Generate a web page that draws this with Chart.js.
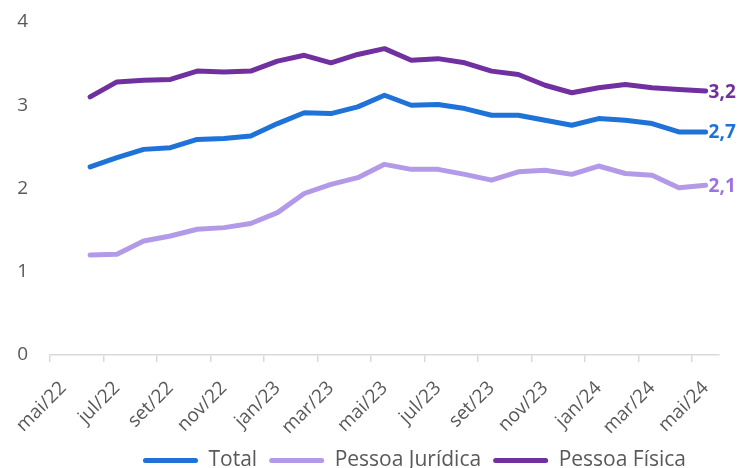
<!DOCTYPE html>
<html>
<head>
<meta charset="utf-8">
<script src="https://cdn.jsdelivr.net/npm/chart.js@4"></script>
<style>
html,body{margin:0;padding:0;background:#fff;}
#wrap{width:745px;height:468px;}
</style>
</head>
<body>
<div id="wrap"><canvas id="c" width="745" height="468"></canvas></div>
<script>
const months = ["mai/22","jun/22","jul/22","ago/22","set/22","out/22","nov/22","dez/22",
  "jan/23","fev/23","mar/23","abr/23","mai/23","jun/23","jul/23","ago/23","set/23","out/23",
  "nov/23","dez/23","jan/24","fev/24","mar/24","abr/24","mai/24"];
const total = [null,2.26,2.37,2.47,2.49,2.59,2.60,2.63,2.78,2.91,2.90,2.98,3.12,3.00,3.01,2.96,2.88,2.88,2.82,2.76,2.84,2.82,2.78,2.68,2.68];
const pj = [null,1.20,1.21,1.37,1.43,1.51,1.53,1.58,1.71,1.94,2.05,2.13,2.29,2.23,2.23,2.17,2.10,2.20,2.22,2.17,2.27,2.18,2.16,2.01,2.04];
const pf = [null,3.10,3.28,3.30,3.31,3.41,3.40,3.41,3.53,3.60,3.51,3.61,3.68,3.54,3.56,3.51,3.41,3.37,3.24,3.15,3.21,3.25,3.21,3.19,3.17];
const seriesNames = ["Total","Pessoa Jurídica","Pessoa Física"];
const endLabels = ["2,7","2,1","3,2"];
const yTicks = [0,1,2,3,4];

const colors = ["#1F72D8","#B39AE8","#7030A0"];
const labelColors = ["#1F72D8","#9D72E3","#7030A0"];
const FONT = "'Open Sans', 'Noto Sans', sans-serif";

const endLabelPlugin = {
  id: 'endLabels',
  afterLayout(chart) {
    // Shift legend so it sits a little right of center, as in the reference
    const lg = chart.legend;
    if (lg) { lg.left += 55; lg.right += 55; }
  },
  afterDatasetsDraw(chart) {
    const ctx = chart.ctx;
    ctx.save();
    ctx.font = "bold 19px " + FONT;
    ctx.textAlign = 'left';
    ctx.textBaseline = 'middle';
    chart.data.datasets.forEach((ds, i) => {
      const meta = chart.getDatasetMeta(i);
      const pt = meta.data[meta.data.length - 1];
      ctx.fillStyle = labelColors[i];
      ctx.fillText(endLabels[i], pt.x + 3, pt.y + 1);
    });
    ctx.restore();
  }
};

const mk = (name, data, i) => ({
  label: name, data: data, borderColor: colors[i], backgroundColor: colors[i],
  borderWidth: 5, pointRadius: 0, tension: 0, fill: false, borderCapStyle: 'round', borderJoinStyle: 'round'
});

new Chart(document.getElementById('c'), {
  type: 'line',
  data: {
    labels: months,
    datasets: [mk(seriesNames[0], total, 0), mk(seriesNames[1], pj, 1), mk(seriesNames[2], pf, 2)]
  },
  plugins: [endLabelPlugin],
  options: {
    responsive: false,
    animation: false,
    layout: { padding: { top: 22, right: 26, left: 0, bottom: -13 } },
    plugins: {
      tooltip: { enabled: false },
      legend: {
        position: 'bottom',
        labels: {
          color: '#595959',
          font: { family: FONT, size: 21 },
          boxWidth: 55, boxHeight: 5,
          useBorderRadius: true, borderRadius: 2.5,
          padding: 12,
          generateLabels(chart) {
            return chart.data.datasets.map((ds, i) => ({
              text: ds.label, fillStyle: colors[i], strokeStyle: colors[i], lineWidth: 0,
              fontColor: '#595959', datasetIndex: i, borderRadius: 2.5
            }));
          }
        }
      }
    },
    scales: {
      x: {
        type: 'category',
        offset: true,
        afterFit(scale) { scale.height = 83; },
        grid: {
          display: true, drawOnChartArea: false, drawTicks: true, tickLength: 7, offset: true,
          color: (c) => (c.index % 2 === 0 ? '#D9D9D9' : 'rgba(0,0,0,0)'), lineWidth: 1.5
        },
        border: { display: true, color: '#D9D9D9', width: 1.5 },
        ticks: {
          autoSkip: false, maxRotation: 45, minRotation: 45, color: '#595959',
          font: { family: FONT, size: 19 }, padding: 15,
          callback: function(v, idx) { return idx % 2 === 0 ? this.getLabelForValue(v) : ''; }
        }
      },
      y: {
        min: 0, max: 4,
        afterBuildTicks(scale) { scale.ticks = yTicks.map(v => ({ value: v })); },
        afterFit(scale) { scale.width = 50; },
        grid: { display: false, drawTicks: true, tickLength: 20 },
        border: { display: false },
        ticks: { color: '#595959', font: { family: FONT, size: 19 }, padding: 2 }
      }
    }
  }
});
</script>
</body>
</html>
